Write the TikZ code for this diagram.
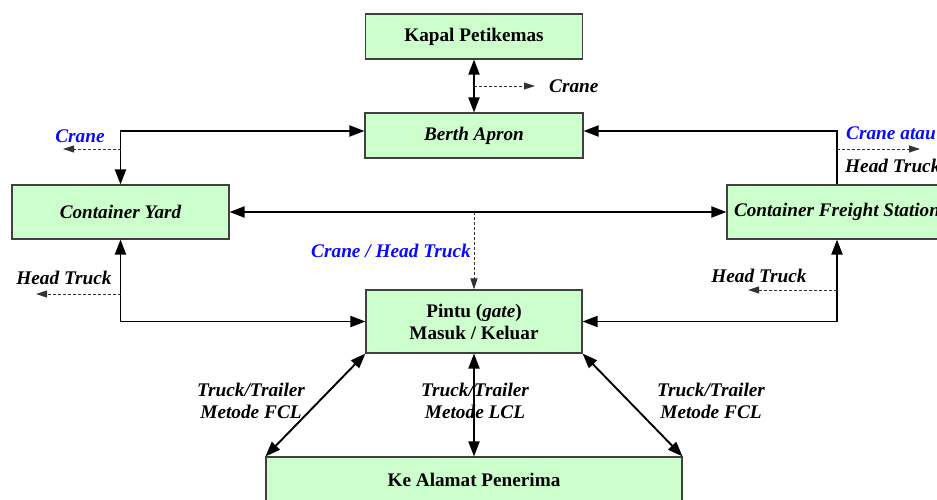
\documentclass[tikz,border=0pt]{standalone}
\usepackage{fontspec}
\setmainfont{Liberation Serif}
\usetikzlibrary{arrows.meta}
\definecolor{boxgreen}{HTML}{CCFFCC}
\definecolor{lblue}{HTML}{0A0AFF}
\tikzset{
  boxnode/.style={draw=black!75, line width=1.1pt, fill=boxgreen, inner sep=0pt, font=\fontsize{19.2}{22}\selectfont\bfseries\itshape, align=center},
  uprightbox/.style={font=\fontsize{19.2}{22}\selectfont\bfseries},
  mainline/.style={line width=1.9pt, black},
  dbl/.style={mainline, {Triangle[length=15pt,width=11pt]}-{Triangle[length=15pt,width=11pt]}},
  sgl/.style={mainline, -{Triangle[length=15pt,width=11pt]}},
  dashline/.style={line width=0.9pt, black!80, dash pattern=on 3pt off 2pt, -{Triangle[length=11pt,width=7pt]}},
  lbl/.style={font=\fontsize{19.3}{22}\selectfont\bfseries\itshape, align=center, inner sep=0pt},
  bluelbl/.style={lbl, text=lblue}
}
\begin{document}
\begin{tikzpicture}[x=1pt,y=-1pt]
\useasboundingbox (0,0) rectangle (937,500);
\clip (0,0) rectangle (937,500);
% boxes
\node[boxnode, uprightbox, minimum width=217pt, minimum height=45pt] (kapal) at (474,36.5) {Kapal Petikemas};
\node[boxnode, minimum width=218pt, minimum height=45pt] (berth) at (474,135.5) {Berth Apron};
\node[boxnode, minimum width=217pt, minimum height=54pt] (cy) at (120.5,212) {Container Yard};
\node[boxnode, minimum width=220pt, minimum height=54pt] (cfs) at (837,212) {Container Freight Station};
\node[boxnode, uprightbox, minimum width=216pt, minimum height=63pt] (pintu) at (474,321.5) {Pintu (\textit{gate})\\Masuk / Keluar};
\node[boxnode, uprightbox, minimum width=416pt, minimum height=46pt] (alamat) at (474,480) {Ke Alamat Penerima};
% helper coordinates
\coordinate (top) at (0,131);
\coordinate (kc) at (474,86);
\coordinate (kce) at (535,86);
\coordinate (cyc) at (121,149);
\coordinate (cyce) at (63,149);
\coordinate (cyh) at (121,294);
\coordinate (cyhe) at (36,294);
\coordinate (cfc) at (837,149);
\coordinate (cfce) at (920,149);
\coordinate (cfh) at (837,290);
\coordinate (cfhe) at (748,290);
\coordinate (mid) at (474,212);
% main connectors
\draw[dbl] (kapal.south) -- (berth.north);
\draw[dbl] (cy.north) |- (berth.west |- top);
\draw[sgl] (cfs.north) |- (berth.east |- top);
\draw[dbl] (cy.east) -- (cfs.west);
\draw[dbl] (cy.south) |- (pintu.west);
\draw[dbl] (cfs.south) |- (pintu.east);
\draw[dbl] (pintu.south west) -- (alamat.north west);
\draw[dbl] (pintu.south) -- (alamat.north);
\draw[dbl] (pintu.south east) -- (alamat.north east);
% dashed connectors
\draw[dashline] (kc) -- (kce);
\draw[dashline] (cyc) -- (cyce);
\draw[dashline] (cyh) -- (cyhe);
\draw[dashline] (cfc) -- (cfce);
\draw[dashline] (cfh) -- (cfhe);
\draw[dashline] (mid) -- (pintu.north);
% labels
\node[lbl, anchor=west] (l1) at (549,86) {Crane};
\node[bluelbl] (l2) at (80,136) {Crane};
\node[lbl] (l3) at (64,278) {Head Truck};
\node[bluelbl, anchor=west] (l4) at (846,133) {Crane atau};
\node[lbl, anchor=west] (l5) at (845,166) {Head Truck};
\node[lbl] (l6) at (759,276) {Head Truck};
\node[bluelbl, anchor=east] (l7) at (471,251) {Crane / Head Truck};
\node[lbl] (l8) at (251,401) {Truck/Trailer\\Metode FCL};
\node[lbl] (l9) at (475,401) {Truck/Trailer\\Metode LCL};
\node[lbl] (l10) at (711,401) {Truck/Trailer\\Metode FCL};
\end{tikzpicture}
\end{document}
